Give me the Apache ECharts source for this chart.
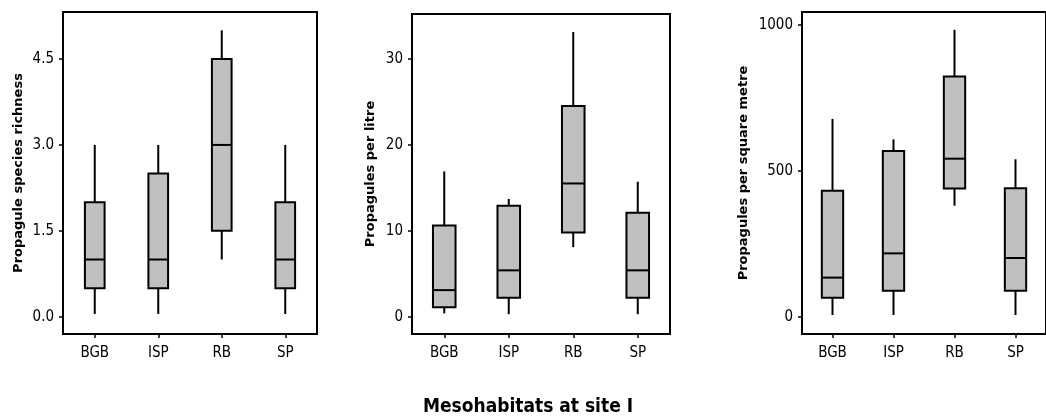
<!DOCTYPE html>
<html>
<head>
<meta charset="utf-8">
<script src="https://cdn.jsdelivr.net/npm/echarts@6/dist/echarts.min.js"></script>
<style>
  html, body { margin: 0; padding: 0; background: #fff; }
  #chart { width: 1046px; height: 417px; }
</style>
</head>
<body>
<div id="chart"></div>
<script>
// categories (mesohabitats)
const categories = ['BGB', 'ISP', 'RB', 'SP'];

// each row: [whisker low, Q1, median, Q3, whisker high]
const richness = [
  [0.05, 0.5, 1.0, 2.0, 3.0],
  [0.05, 0.5, 1.0, 2.5, 3.0],
  [1.0, 1.5, 3.0, 4.5, 5.0],
  [0.05, 0.5, 1.0, 2.0, 3.0]
];
const perLitre = [
  [0.4, 1.1, 3.1, 10.6, 16.9],
  [0.3, 2.2, 5.4, 12.9, 13.7],
  [8.1, 9.8, 15.5, 24.5, 33.1],
  [0.3, 2.2, 5.4, 12.1, 15.7]
];
const perSqMetre = [
  [7, 66, 135, 432, 678],
  [7, 90, 218, 568, 608],
  [381, 440, 542, 823, 983],
  [7, 90, 202, 441, 540]
];

// tick labels
const richnessTicks = [0, 1.5, 3, 4.5];
const litreTicks = [0, 10, 20, 30];
const sqMetreTicks = [0, 500, 1000];

const tickFont = '"Liberation Sans Narrow", "DejaVu Sans Condensed", sans-serif';
const titleFont = '"DejaVu Sans Condensed", "DejaVu Sans", sans-serif';
const nameFont = '"DejaVu Sans", Verdana, sans-serif';

const chart = echarts.init(document.getElementById('chart'));

const grids = [
  { left: 63, top: 12, width: 254, height: 322 },
  { left: 412, top: 14, width: 258, height: 320 },
  { left: 802, top: 12, width: 248, height: 322 }
];

function xAxis(i) {
  return {
    type: 'category', gridIndex: i, data: categories,
    axisLine: { show: false, onZero: false },
    axisTick: { show: true, alignWithLabel: true, length: 4, lineStyle: { color: '#000', width: 1.5 } },
    axisLabel: { color: '#000', fontSize: 15, fontFamily: tickFont, margin: 12 },
    splitLine: { show: false }
  };
}

function yAxis(i, name, min, max, ticks, gap, fmt) {
  return {
    type: 'value', gridIndex: i, min: min, max: max,
    name: name, nameLocation: 'middle', nameGap: gap,
    nameTextStyle: { fontWeight: 'bold', fontSize: 13, fontFamily: nameFont, color: '#000' },
    axisLine: { show: false, onZero: false },
    axisTick: { show: true, length: 4, customValues: ticks, lineStyle: { color: '#000', width: 1.5 } },
    axisLabel: { color: '#000', fontSize: 15, fontFamily: tickFont, margin: 9,
      customValues: ticks, formatter: fmt },
    splitLine: { show: false }
  };
}

function boxSeries(i, data, frac) {
  return {
    type: 'custom', xAxisIndex: i, yAxisIndex: i,
    data: data.map((d, k) => [k].concat(d)),
    renderItem: function (params, api) {
      const x = api.value(0);
      const lo = api.coord([x, api.value(1)]);
      const q1 = api.coord([x, api.value(2)]);
      const md = api.coord([x, api.value(3)]);
      const q3 = api.coord([x, api.value(4)]);
      const hi = api.coord([x, api.value(5)]);
      const w = api.size([1, 0])[0] * frac;
      const cx = lo[0];
      const line = { stroke: '#000', lineWidth: 2 };
      return {
        type: 'group',
        children: [
          { type: 'line', shape: { x1: cx, y1: lo[1], x2: cx, y2: q1[1] }, style: line },
          { type: 'line', shape: { x1: cx, y1: q3[1], x2: cx, y2: hi[1] }, style: line },
          { type: 'rect', shape: { x: cx - w / 2, y: q3[1], width: w, height: q1[1] - q3[1] },
            style: { fill: '#c0c0c0', stroke: '#000', lineWidth: 2 } },
          { type: 'line', shape: { x1: cx - w / 2, y1: md[1], x2: cx + w / 2, y2: md[1] }, style: line }
        ]
      };
    }
  };
}

chart.setOption({
  animation: false,
  backgroundColor: '#fff',
  title: {
    text: 'Mesohabitats at site I', left: 523, textAlign: 'center', top: 393,
    textStyle: { fontSize: 19, fontWeight: 'bold', fontFamily: titleFont, color: '#000' }
  },
  grid: grids.map(g => Object.assign({ show: true, borderColor: '#000', borderWidth: 2, backgroundColor: 'transparent' }, g)),
  xAxis: [xAxis(0), xAxis(1), xAxis(2)],
  yAxis: [
    yAxis(0, 'Propagule species richness', -0.3, 5.32, richnessTicks, 37.5, v => v.toFixed(1)),
    yAxis(1, 'Propagules per litre', -2, 35.2, litreTicks, 34.5, v => String(v)),
    yAxis(2, 'Propagules per square metre', -58, 1044, sqMetreTicks, 51.5, v => String(v))
  ],
  series: [
    boxSeries(0, richness, 0.31),
    boxSeries(1, perLitre, 0.35),
    boxSeries(2, perSqMetre, 0.35)
  ]
});
</script>
</body>
</html>
